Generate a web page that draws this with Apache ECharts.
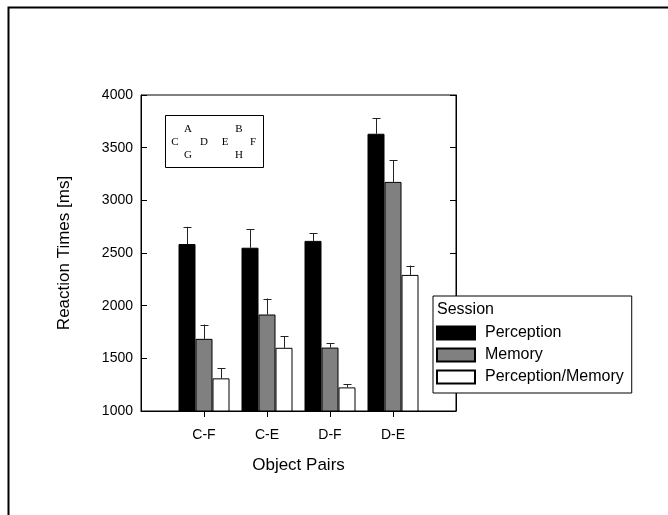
<!DOCTYPE html>
<html>
<head>
<meta charset="utf-8">
<script src="https://cdn.jsdelivr.net/npm/echarts@6/dist/echarts.min.js"></script>
<style>html,body{margin:0;padding:0;background:#fff;}#c{width:668px;height:515px;}</style>
</head>
<body>
<div id="c"></div>
<script>
// ---- data ----
const categories = ['', 'C-F', 'C-E', 'D-F', 'D-E', ' '];
const sessions = ['Perception', 'Memory', 'Perception/Memory'];
const perception = [null, 2585, 2550, 2615, 3632, null];
const perceptionErr = [null, 164, 174, 72, 148, null];
const memory = [null, 1685, 1916, 1602, 3175, null];
const memoryErr = [null, 136, 152, 41, 205, null];
const percMem = [null, 1310, 1600, 1224, 2292, null];
const percMemErr = [null, 95, 111, 32, 89, null];
const yTicks = {min: 1000, max: 4000, step: 500};
const insetLetters = [
  ['A', 188, 129], ['B', 239, 129],
  ['C', 175, 142], ['D', 204, 142], ['E', 225, 142], ['F', 253, 142],
  ['G', 188, 155], ['H', 239, 155]
];

const FONT = "'Liberation Sans', Arial, sans-serif";
const BAR_W = 17;
const colors = ['#000000', '#808080', '#ffffff'];
const values = [perception, memory, percMem];
const errs = [perceptionErr, memoryErr, percMemErr];

const barSeries = sessions.map((name, k) => ({
  name: name,
  type: 'bar',
  barWidth: BAR_W,
  barGap: '0%',
  data: values[k],
  itemStyle: {color: colors[k], borderColor: '#000', borderWidth: 1},
  emphasis: {disabled: true},
  z: 3
}));

const errSeries = sessions.map((name, k) => ({
  name: name + ' err',
  type: 'custom',
  z: 2,
  data: values[k].map((v, i) => v == null ? null : [i, v, errs[k][i]]).filter(d => d),
  renderItem: function (params, api) {
    const off = (k - 1) * BAR_W;
    const top = api.coord([api.value(0), api.value(1) + api.value(2)]);
    const base = api.coord([api.value(0), api.value(1)]);
    const x = Math.round(top[0] + off) + 0.5;
    return {
      type: 'group',
      children: [
        {type: 'line', shape: {x1: x, y1: base[1], x2: x, y2: top[1]}, style: {stroke: '#222', lineWidth: 1}},
        {type: 'line', shape: {x1: x - 4, y1: Math.round(top[1]) + 0.5, x2: x + 4, y2: Math.round(top[1]) + 0.5}, style: {stroke: '#222', lineWidth: 1}}
      ]
    };
  }
}));

const chart = echarts.init(document.getElementById('c'), null, {renderer: 'canvas'});
const graphics = [
  {type: 'polyline', shape: {points: [[8.5, 515], [8.5, 7.5], [668, 7.5]]}, style: {stroke: '#000', lineWidth: 2, fill: null}, z: 100},
  {type: 'rect', shape: {x: 165.5, y: 115.5, width: 98, height: 52}, style: {stroke: '#000', lineWidth: 1, fill: '#fff'}, z: 100},
  {type: 'text', left: 437, top: 302, style: {text: 'Session', font: '16px ' + FONT, fill: '#000'}, z: 100}
];
insetLetters.forEach(([t, x, y]) => {
  graphics.push({type: 'text', x: x, y: y, style: {text: t, font: '11px "Liberation Serif", "DejaVu Serif", serif', fill: '#000', align: 'center', verticalAlign: 'middle'}, z: 101});
});

chart.setOption({
  animation: false,
  textStyle: {fontFamily: FONT},
  grid: {left: 141, right: 212, top: 95, bottom: 104, show: true, borderColor: '#000', borderWidth: 1, backgroundColor: 'transparent'},
  legend: {
    data: sessions,
    orient: 'vertical',
    left: 433, top: 296,
    width: 200,
    padding: [29, 8, 8, 3],
    itemWidth: 38, itemHeight: 13, itemGap: 6,
    backgroundColor: '#fff', borderColor: '#000', borderWidth: 1,
    selectedMode: false,
    textStyle: {fontSize: 16, color: '#000', fontFamily: FONT, padding: [0, 0, 0, 5]},
    icon: 'rect',
    z: 50
  },
  xAxis: {
    type: 'category',
    data: categories,
    boundaryGap: false,
    name: 'Object Pairs',
    nameLocation: 'middle',
    nameGap: 46,
    nameTextStyle: {fontSize: 17, color: '#000', fontFamily: FONT},
    axisLine: {lineStyle: {color: '#000', width: 1}},
    axisTick: {show: true, length: 6, lineStyle: {color: '#000'}, interval: function (i) { return i > 0 && i < categories.length - 1; }},
    axisLabel: {fontSize: 14, color: '#000', margin: 17, interval: 0},
    splitLine: {show: false}
  },
  yAxis: [{
    type: 'value',
    min: yTicks.min, max: yTicks.max, interval: yTicks.step,
    name: 'Reaction Times [ms]',
    nameLocation: 'middle',
    nameGap: 68,
    nameTextStyle: {fontSize: 17, color: '#000', fontFamily: FONT},
    axisLine: {show: true, lineStyle: {color: '#000'}},
    axisTick: {show: true, inside: true, length: 6, lineStyle: {color: '#000'}},
    axisLabel: {fontSize: 14, color: '#000', margin: 8, formatter: function (v) { return String(v); }},
    splitLine: {show: false}
  }, {
    type: 'value',
    position: 'right',
    min: yTicks.min, max: yTicks.max, interval: yTicks.step,
    axisLine: {show: true, lineStyle: {color: '#000'}},
    axisTick: {show: true, inside: true, length: 6, lineStyle: {color: '#000'}},
    axisLabel: {show: false},
    splitLine: {show: false}
  }],
  series: barSeries.concat(errSeries),
  graphic: graphics
});
</script>
</body>
</html>
